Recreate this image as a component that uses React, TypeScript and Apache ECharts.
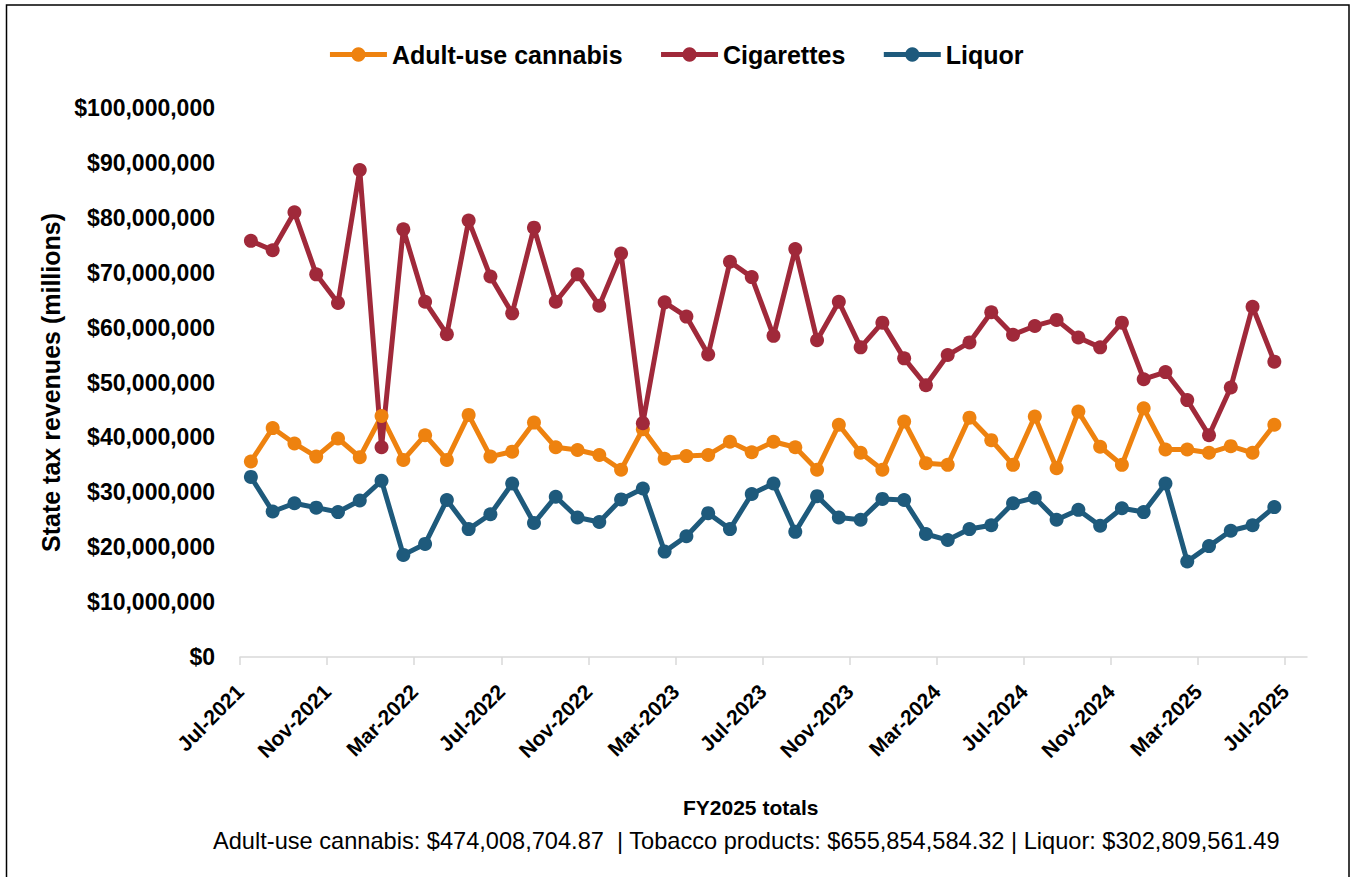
import React, { useEffect, useRef } from "react";
import * as echarts from "echarts";

const TICK_LABELS = [
  "Jul-2021", "Nov-2021", "Mar-2022", "Jul-2022", "Nov-2022", "Mar-2023", "Jul-2023",
  "Nov-2023", "Mar-2024", "Jul-2024", "Nov-2024", "Mar-2025", "Jul-2025",
];

const MONTHS = [
  "Jul-2021", "Aug-2021", "Sep-2021", "Oct-2021", "Nov-2021", "Dec-2021",
  "Jan-2022", "Feb-2022", "Mar-2022", "Apr-2022", "May-2022", "Jun-2022",
  "Jul-2022", "Aug-2022", "Sep-2022", "Oct-2022", "Nov-2022", "Dec-2022",
  "Jan-2023", "Feb-2023", "Mar-2023", "Apr-2023", "May-2023", "Jun-2023",
  "Jul-2023", "Aug-2023", "Sep-2023", "Oct-2023", "Nov-2023", "Dec-2023",
  "Jan-2024", "Feb-2024", "Mar-2024", "Apr-2024", "May-2024", "Jun-2024",
  "Jul-2024", "Aug-2024", "Sep-2024", "Oct-2024", "Nov-2024", "Dec-2024",
  "Jan-2025", "Feb-2025", "Mar-2025", "Apr-2025", "May-2025", "Jun-2025",
];

// values in millions of dollars
const CANNABIS = [
  35.6, 41.7, 38.9, 36.5, 39.8, 36.4, 43.9, 35.9, 40.4, 35.9,
  44.1, 36.5, 37.4, 42.7, 38.2, 37.7, 36.8, 34.1, 41.5, 36.1,
  36.6, 36.8, 39.2, 37.3, 39.2, 38.2, 34.1, 42.3, 37.2, 34.1,
  42.9, 35.3, 35.0, 43.6, 39.5, 35.0, 43.8, 34.4, 44.7, 38.3,
  35.0, 45.3, 37.8, 37.8, 37.2, 38.4, 37.2, 42.3,
];

const CIGARETTES = [
  75.8, 74.1, 81.0, 69.7, 64.5, 88.7, 38.2, 77.9, 64.7, 58.8,
  79.5, 69.3, 62.6, 78.2, 64.7, 69.7, 64.0, 73.5, 42.6, 64.6,
  62.0, 55.1, 72.0, 69.2, 58.5, 74.3, 57.7, 64.7, 56.4, 60.9,
  54.4, 49.5, 55.0, 57.3, 62.8, 58.7, 60.3, 61.4, 58.2, 56.4,
  60.9, 50.6, 51.9, 46.8, 40.4, 49.1, 63.8, 53.8,
];

const LIQUOR = [
  32.8, 26.5, 28.0, 27.2, 26.4, 28.5, 32.1, 18.6, 20.6, 28.6,
  23.3, 26.0, 31.6, 24.4, 29.2, 25.4, 24.6, 28.7, 30.7, 19.2,
  22.0, 26.2, 23.3, 29.7, 31.6, 22.8, 29.3, 25.4, 25.0, 28.8,
  28.6, 22.4, 21.3, 23.3, 24.0, 28.0, 29.0, 25.0, 26.8, 23.9,
  27.1, 26.4, 31.6, 17.4, 20.2, 23.0, 24.0, 27.3,
];

const SERIES_NAMES = ["Adult-use cannabis", "Cigarettes", "Liquor"];
const COLORS = ["#EE820F", "#A0293A", "#1E5A7C"];

const TOTALS_TITLE = "FY2025 totals";
const TOTALS_TEXT =
  "Adult-use cannabis: $474,008,704.87  | Tobacco products: $655,854,584.32 | Liquor: $302,809,561.49";

const FONT = "'Liberation Sans', Arial, sans-serif";

export default function App() {
  const ref = useRef<HTMLDivElement>(null);

  useEffect(() => {
    if (!ref.current) return;
    const chart = echarts.init(ref.current, null, { renderer: "svg" });
    const toPoints = (vals: number[]) => vals.map((v, i) => [i + 0.5, v]);
    const tickValues = TICK_LABELS.map((_, i) => i * 4);

    chart.setOption({
      animation: false,
      backgroundColor: "#fff",
      textStyle: { fontFamily: FONT },
      legend: {
        data: SERIES_NAMES,
        left: "center",
        top: 37,
        itemWidth: 57,
        itemHeight: 18,
        itemGap: 36,
        lineStyle: { width: 5 },
        textStyle: { fontSize: 25, fontWeight: "bold", color: "#000", fontFamily: FONT },
      },
      grid: { left: 240, right: 44, top: 108, bottom: 220, containLabel: false },
      xAxis: {
        type: "value",
        min: 0,
        max: 49,
        interval: 4,
        splitLine: { show: false },
        axisLine: { show: true, lineStyle: { color: "#d9d9d9", width: 1.5 } },
        axisTick: {
          show: true,
          length: 8,
          customValues: tickValues,
          lineStyle: { color: "#d9d9d9", width: 1.5 },
        },
        axisLabel: {
          customValues: tickValues,
          rotate: 45,
          margin: 31,
          fontSize: 21,
          fontWeight: "bold",
          color: "#000",
          formatter: (v: number) => TICK_LABELS[Math.round(v / 4)] ?? "",
        },
      },
      yAxis: {
        type: "value",
        min: 0,
        max: 100,
        interval: 10,
        name: "State tax revenues (millions)",
        nameLocation: "middle",
        nameGap: 177,
        nameTextStyle: { fontSize: 25, fontWeight: "bold", color: "#000" },
        splitLine: { show: false },
        axisLine: { show: false },
        axisTick: { show: false },
        axisLabel: {
          margin: 25,
          fontSize: 23,
          fontWeight: "bold",
          color: "#000",
          formatter: (v: number) => "$" + Math.round(v * 1e6).toLocaleString("en-US"),
        },
      },
      graphic: [
        {
          type: "rect",
          silent: true,
          shape: { x: 6.5, y: 5, width: 1342.5, height: 900 },
          style: { fill: "none", stroke: "#000", lineWidth: 1.5 },
        },
        {
          type: "text",
          left: 683,
          top: 797,
          style: {
            text: TOTALS_TITLE,
            fontSize: 21,
            fontWeight: "bold",
            fill: "#000",
            fontFamily: FONT,
          },
        },
        {
          type: "text",
          left: 213,
          top: 829,
          style: {
            text: TOTALS_TEXT,
            fontSize: 23.6,
            fill: "#000",
            fontFamily: FONT,
          },
        },
      ],
      series: [CANNABIS, CIGARETTES, LIQUOR].map((vals, idx) => ({
        name: SERIES_NAMES[idx],
        type: "line",
        data: toPoints(vals),
        symbol: "circle",
        symbolSize: 14,
        showSymbol: true,
        color: COLORS[idx],
        lineStyle: { width: 5, color: COLORS[idx] },
        itemStyle: { color: COLORS[idx] },
      })),
    });

    return () => chart.dispose();
  }, []);

  return (
    <div
      ref={ref}
      style={{ position: "fixed", left: 0, top: 0, width: 1351, height: 877 }}
      data-months={MONTHS.length}
    />
  );
}
